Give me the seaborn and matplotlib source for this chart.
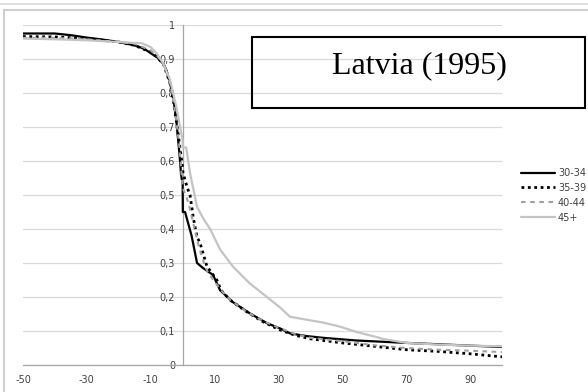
import matplotlib
matplotlib.use("Agg")
import matplotlib.pyplot as plt
import seaborn as sns
import pandas as pd
from matplotlib.patches import Rectangle
from matplotlib.lines import Line2D
from matplotlib.ticker import FuncFormatter, FixedLocator

# ---------------- data ----------------
labels = ["30-34", "35-39", "40-44", "45+"]

x_30 = [-50, -40, -35, -30, -25, -20, -15, -12, -10, -8, -6, -5, -4, -3, -2, -1, -0.5,
        0, 0.05, 0.75, 2.8, 4.5, 6.4, 9.5, 11.7, 15.7, 21, 26.4, 30.4, 33.6, 38.9,
        43.9, 54.5, 70, 90, 100]
y_30 = [0.975, 0.975, 0.970, 0.963, 0.957, 0.950, 0.940, 0.930, 0.917, 0.905, 0.885,
        0.865, 0.83, 0.79, 0.72, 0.62, 0.56, 0.53, 0.45, 0.45, 0.38, 0.30, 0.285,
        0.265, 0.22, 0.185, 0.152, 0.123, 0.108, 0.093, 0.085, 0.080, 0.072, 0.065,
        0.057, 0.053]

x_35 = [-50, -40, -30, -20, -15, -10, -8, -6, -4, -3, -2, -1, 0, 0.1, 1.5, 2.3, 3.3,
        4.5, 5.4, 7.6, 10.7, 12, 15, 20, 25, 30, 35, 40, 50, 60, 70, 80, 90, 100]
y_35 = [0.966, 0.965, 0.960, 0.950, 0.940, 0.920, 0.905, 0.885, 0.83, 0.78, 0.72, 0.65,
        0.58, 0.565, 0.52, 0.50, 0.435, 0.376, 0.36, 0.29, 0.25, 0.22, 0.19, 0.157,
        0.128, 0.105, 0.088, 0.077, 0.065, 0.055, 0.045, 0.040, 0.033, 0.024]

x_40 = [-50, -40, -30, -20, -15, -10, -8, -6, -4, -3, -2, -1, 0, 1, 2, 3, 4, 5, 6, 7,
        8, 10, 12, 15, 20, 25, 30, 35, 40, 50, 60, 70, 80, 90, 100]
y_40 = [0.962, 0.962, 0.958, 0.950, 0.945, 0.925, 0.91, 0.885, 0.83, 0.78, 0.72, 0.64,
        0.52, 0.50, 0.47, 0.43, 0.39, 0.35, 0.32, 0.29, 0.27, 0.245, 0.22, 0.19, 0.157,
        0.13, 0.11, 0.092, 0.08, 0.07, 0.058, 0.05, 0.045, 0.042, 0.038]

x_45 = [-50, -40, -30, -20, -15, -13, -10, -8, -6, -4, -3, -2, -1, 0, 0.05, 1.1, 2.3,
        4.5, 6.5, 8.6, 11.7, 15.7, 21, 26.4, 30.4, 33.6, 38.9, 43.9, 49.2, 54.5, 60.8,
        62.6, 70, 80, 90, 100]
y_45 = [0.960, 0.958, 0.955, 0.950, 0.947, 0.947, 0.935, 0.915, 0.885, 0.84, 0.80,
        0.76, 0.71, 0.66, 0.64, 0.64, 0.565, 0.465, 0.43, 0.40, 0.34, 0.29, 0.24, 0.20,
        0.17, 0.142, 0.133, 0.125, 0.113, 0.097, 0.082, 0.077, 0.065, 0.06, 0.057, 0.055]

x_ticks = [-50, -30, -10, 10, 30, 50, 70, 90]
y_ticks = [0, 0.1, 0.2, 0.3, 0.4, 0.5, 0.6, 0.7, 0.8, 0.9, 1.0]
title = "Latvia (1995)"

# ---------------- figure ----------------
sns.set_theme(style="white")
plt.rcParams["font.family"] = ["DejaVu Sans"]

W, H = 588, 392
fig = plt.figure(figsize=(W / 100, H / 100), dpi=100)
fig.patch.set_facecolor("white")

def fx(px):
    return px / W

def fy(py):
    return 1 - py / H

ax = fig.add_axes([fx(23), fy(365), fx(502) - fx(23), fy(25) - fy(365)])
ax.set_facecolor("white")

styles = [
    dict(color="black", lw=1.6, ls="-"),
    dict(color="black", lw=2.0, ls=(0, (1.0, 1.3))),
    dict(color="#a0a0a0", lw=1.5, ls=(0, (2.2, 2.2))),
    dict(color="#c4c4c4", lw=1.6, ls="-"),
]
series = [(x_30, y_30), (x_35, y_35), (x_40, y_40), (x_45, y_45)]

handles = []
for (xs, ys), lab, st in zip(series, labels, styles):
    df = pd.DataFrame({"x": xs, "y": ys})
    sns.lineplot(data=df, x="x", y="y", ax=ax, estimator=None, sort=False,
                 color=st["color"], linewidth=st["lw"], linestyle=st["ls"], zorder=3)
    handles.append(Line2D([], [], color=st["color"], lw=st["lw"], ls=st["ls"]))

ax.set_xlim(-50, 100)
ax.set_ylim(0, 1)
ax.set_xlabel("")
ax.set_ylabel("")

ax.xaxis.set_major_locator(FixedLocator(x_ticks))
ax.yaxis.set_major_locator(FixedLocator(y_ticks))

def yfmt(v, pos):
    if abs(v) < 1e-9:
        return "0"
    if abs(v - 1) < 1e-9:
        return "1"
    return f"{v:.1f}".replace(".", ",")

ax.yaxis.set_major_formatter(FuncFormatter(yfmt))
ax.xaxis.set_major_formatter(FuncFormatter(lambda v, p: f"{int(v)}"))

ax.grid(axis="y", color="#d9d9d9", lw=0.9)
ax.grid(axis="x", visible=False)

for s in ["top", "right"]:
    ax.spines[s].set_visible(False)
ax.spines["left"].set_position(("data", 0))
ax.spines["left"].set_color("#a6a6a6")
ax.spines["bottom"].set_color("#a6a6a6")
ax.spines["left"].set_linewidth(0.9)
ax.spines["bottom"].set_linewidth(0.9)
ax.spines["left"].set_zorder(2)

ax.tick_params(axis="both", which="major", labelsize=7, colors="#404040",
               length=3.5, width=0.8, direction="out", pad=4)
ax.tick_params(axis="x", color="#a6a6a6")
ax.tick_params(axis="y", color="#a6a6a6", pad=2)

# legend
leg = ax.legend(handles, labels, loc="upper left",
                bbox_to_anchor=(fx(521), fy(168)), bbox_transform=fig.transFigure,
                frameon=False, fontsize=7, handlelength=3.5, handletextpad=0.3,
                labelspacing=0.5, borderpad=0, borderaxespad=0)
for t in leg.get_texts():
    t.set_color("#404040")

# title box
fig.patches.append(Rectangle((fx(252), fy(108)), fx(585) - fx(252), fy(37) - fy(108),
                             transform=fig.transFigure, fill=False,
                             edgecolor="black", lw=1.5, zorder=5))
fig.text(fx(419.5), fy(66), title, ha="center", va="center",
         fontsize=23, family="Liberation Serif", color="black", zorder=6)

# outer frames
fig.lines.append(Line2D([0, 1], [fy(4), fy(4)], transform=fig.transFigure,
                        color="#d9d9d9", lw=1.2))
fig.patches.append(Rectangle((fx(4), -0.2), 2, fy(10) + 0.2, transform=fig.transFigure,
                             fill=False, edgecolor="#d0d0d0", lw=1.5))

fig.savefig("out.png", dpi=100, facecolor="white")
